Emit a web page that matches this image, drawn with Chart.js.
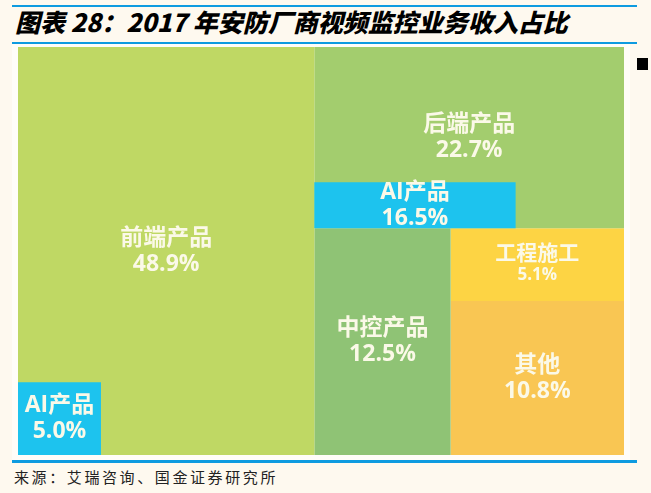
<!DOCTYPE html>
<html lang="zh">
<head>
<meta charset="utf-8">
<script src="https://cdn.jsdelivr.net/npm/chart.js@4.4.1/dist/chart.umd.min.js"></script>
<style>
  body { margin: 0; background: #fef9ef; width: 651px; height: 493px; position: relative; overflow: hidden; }
  .rule { position: absolute; left: 12px; width: 625px; background: #0e9be0; }
  #title { position: absolute; left: 15px; top: 3px; font: italic 900 25px "Noto Sans CJK SC", sans-serif; color: #000; white-space: nowrap; }
  #source { position: absolute; left: 14px; top: 466px; font: 15px "Noto Sans CJK SC", sans-serif; letter-spacing: 2.6px; color: #222; white-space: nowrap; }
  #frame { position: absolute; left: 12px; top: 44px; width: 618px; height: 416px; background: #fffdf8; }
  #wrap { position: absolute; left: 18px; top: 47px; width: 606px; height: 408px; }
  #mark { position: absolute; left: 637px; top: 58px; width: 11px; height: 12px; background: #000; }
</style>
</head>
<body>
<div class="rule" style="top:5px;height:2px"></div>
<div id="title">图表 28：2017 年安防厂商视频监控业务收入占比</div>
<div class="rule" style="top:42px;height:2px"></div>
<div id="frame"></div>
<div id="wrap"><canvas id="chart" width="606" height="408"></canvas></div>
<div id="mark"></div>
<div class="rule" style="top:460px;height:3px"></div>
<div id="source">来源：艾瑞咨询、国金证券研究所</div>

<script>
// data (share of revenue, %)
var categories = ['前端产品', '后端产品', '中控产品', '工程施工', '其他'];
var shares = [48.9, 22.7, 12.5, 5.1, 10.8];
// AI products sit inside front-end and back-end
var aiLabel = 'AI产品';
var aiParents = ['前端产品', '后端产品'];
var aiShares = [5.0, 16.5];

var colors = {
  '前端产品': '#bfd864',
  '后端产品': '#a3cd6e',
  '中控产品': '#8fc375',
  '工程施工': '#fdd444',
  '其他': '#f9c653',
  'AI': '#1dc3ee'
};

function sum(a) { return a.reduce(function (s, v) { return s + v; }, 0); }

// slice-and-dice layout on a 0..100 x 0..100 box
function layoutCells() {
  var total = sum(shares);
  var cells = [];
  var w0 = shares[0] / total * 100;
  cells.push({ name: categories[0], value: shares[0], x0: 0, x1: w0, y0: 0, y1: 100 });
  var restW = 100 - w0;
  var restV = total - shares[0];
  var hTop = shares[1] / restV * 100;
  cells.push({ name: categories[1], value: shares[1], x0: w0, x1: 100, y0: 100 - hTop, y1: 100 });
  var bottomV = restV - shares[1];
  var bottomH = 100 - hTop;
  var wMid = shares[2] / bottomV * restW;
  cells.push({ name: categories[2], value: shares[2], x0: w0, x1: w0 + wMid, y0: 0, y1: bottomH });
  var hEng = shares[3] / (shares[3] + shares[4]) * bottomH;
  cells.push({ name: categories[3], value: shares[3], x0: w0 + wMid, x1: 100, y0: bottomH - hEng, y1: bottomH });
  cells.push({ name: categories[4], value: shares[4], x0: w0 + wMid, x1: 100, y0: 0, y1: bottomH - hEng });

  // nested AI boxes, bottom-left of their parent, area = share of parent
  var widthFrac = [0.28, 0.65];
  aiParents.forEach(function (p, i) {
    var par = cells.filter(function (c) { return c.name === p; })[0];
    var w = (par.x1 - par.x0) * widthFrac[i];
    var h = (par.y1 - par.y0) * (aiShares[i] / 100) / widthFrac[i];
    cells.push({ name: aiLabel, value: aiShares[i], ai: true, x0: par.x0, x1: par.x0 + w, y0: par.y0, y1: par.y0 + h });
  });
  return cells;
}

var cells = layoutCells();

var datasets = cells.map(function (c) {
  return {
    label: c.name,
    data: [
      { x: c.x0, y: c.y0 }, { x: c.x1, y: c.y0 },
      { x: c.x1, y: c.y1 }, { x: c.x0, y: c.y1 }, { x: c.x0, y: c.y0 }
    ],
    showLine: true,
    fill: 'shape',
    backgroundColor: c.ai ? colors.AI : colors[c.name],
    borderWidth: 0,
    pointRadius: 0,
    tension: 0,
    order: c.ai ? 0 : 1
  };
});

var cellLabels = {
  id: 'cellLabels',
  afterDatasetsDraw: function (chart) {
    var ctx = chart.ctx;
    var xs = chart.scales.x, ys = chart.scales.y;
    ctx.save();
    ctx.fillStyle = '#fbf9e8';
    ctx.textAlign = 'center';
    ctx.textBaseline = 'middle';
    cells.forEach(function (c) {
      var px0 = xs.getPixelForValue(c.x0), px1 = xs.getPixelForValue(c.x1);
      var py0 = ys.getPixelForValue(c.y0), py1 = ys.getPixelForValue(c.y1);
      var cx = (px0 + px1) / 2, cy = (py0 + py1) / 2;
      var small = Math.abs(py0 - py1) < 80 && !c.ai;
      var f1 = small ? 21 : 23, f2 = small ? 17 : 23;
      var gap = small ? 11 : 13;
      ctx.font = 'bold ' + f1 + 'px "Open Sans", "Noto Sans CJK SC", sans-serif';
      ctx.fillText(c.name, cx, cy - gap);
      ctx.font = 'bold ' + f2 + 'px "Open Sans", "Noto Sans CJK SC", sans-serif';
      ctx.fillText(c.value.toFixed(1) + '%', cx, cy + gap);
    });
    ctx.restore();
  }
};

new Chart(document.getElementById('chart'), {
  type: 'scatter',
  data: { datasets: datasets },
  options: {
    responsive: false,
    animation: false,
    layout: { padding: 0 },
    scales: {
      x: { type: 'linear', min: 0, max: 100, display: false },
      y: { type: 'linear', min: 0, max: 100, display: false }
    },
    plugins: {
      legend: { display: false },
      tooltip: { enabled: false }
    }
  },
  plugins: [cellLabels]
});
</script>
</body>
</html>
